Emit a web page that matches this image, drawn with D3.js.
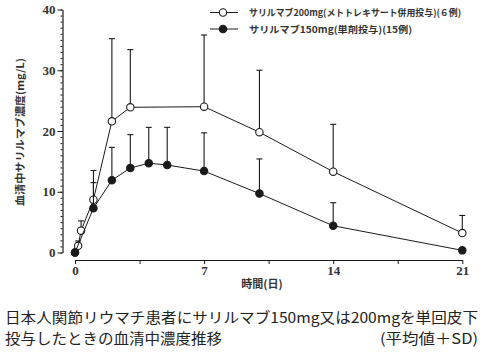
<!DOCTYPE html>
<html>
<head>
<meta charset="utf-8">
<script src="https://cdn.jsdelivr.net/npm/d3@7"></script>
<style>
  body { margin: 0; background: #fff; }
  svg { display: block; }
  .num { font-family: "Liberation Serif", "DejaVu Serif", serif; }
  .jp { font-family: "Noto Sans CJK JP", sans-serif; }
</style>
</head>
<body>
<svg id="chart"></svg>
<script>
// 200mg (with MTX), n=6 : day, mean, mean+SD
const daysA = [0, 0.17, 0.33, 1, 2, 3, 7, 10, 14, 21];
const meanA = [0, 1.1, 3.6, 8.7, 21.6, 23.9, 24.0, 19.8, 13.3, 3.2];
const topA  = [null, 1.9, 5.2, 13.5, 35.2, 33.4, 35.8, 30.0, 21.1, 6.1];

// 150mg (monotherapy), n=15
const daysB = [0, 1, 2, 3, 4, 5, 7, 10, 14, 21];
const meanB = [0, 7.3, 11.9, 13.9, 14.7, 14.4, 13.4, 9.7, 4.4, 0.35];
const topB  = [null, 11.5, 17.3, 19.4, 20.6, 20.6, 19.7, 15.4, 8.2, null];

const yMajor = [0, 10, 20, 30, 40];
const xTicks = [0, 3.5, 7, 10.5, 14, 17.5, 21];
const xLabels = [0, 7, 14, 21];

const legendA = "サリルマブ200mg(メトトレキサート併用投与)(６例)";
const legendB = "サリルマブ150mg(単剤投与)(15例)";
const yTitle = "血清中サリルマブ濃度(mg/L)";
const xTitle = "時間(日)";
const caption1 = "日本人関節リウマチ患者にサリルマブ150mg又は200mgを単回皮下";
const caption2 = "投与したときの血清中濃度推移";
const caption3 = "(平均値＋SD)";

const W = 482, H = 352;
const svg = d3.select("#chart").attr("width", W).attr("height", H);

const x = d3.scaleLinear().domain([0, 21]).range([75, 462.3]);
const y = d3.scaleLinear().domain([0, 40]).range([252.5, 9.5]);

const ink = "#1a1a1a";

// y axis: minor ticks every 1, major every 10
const yMinorG = svg.append("g").attr("transform", "translate(62.5,0)")
  .call(d3.axisLeft(y).tickValues(d3.range(0, 41, 1)).tickSize(2).tickSizeOuter(0).tickFormat(""));
yMinorG.select(".domain").remove();
const yG = svg.append("g").attr("transform", "translate(62.5,0)")
  .call(d3.axisLeft(y).tickValues(yMajor).tickSize(5).tickSizeOuter(0).tickPadding(2));
yG.selectAll("line").attr("stroke", ink);
yMinorG.selectAll("line").attr("stroke", ink);
yG.select(".domain").attr("stroke", ink).attr("stroke-width", 1.2);
yG.selectAll("text").attr("class", "num").attr("font-size", 13).attr("font-weight", "bold").attr("fill", "#333");

// x axis
const xG = svg.append("g").attr("transform", "translate(0,260)")
  .call(d3.axisBottom(x).tickValues(xTicks).tickSize(4).tickSizeOuter(0).tickPadding(2)
    .tickFormat(d => xLabels.includes(d) ? d : ""));
xG.selectAll("line").attr("stroke", ink);
xG.select(".domain").attr("stroke", ink).attr("stroke-width", 1.2);
xG.selectAll("text").attr("class", "num").attr("font-size", 13).attr("font-weight", "bold").attr("fill", "#333");

// axis titles
svg.append("text").attr("class", "jp")
  .attr("transform", "translate(24,132) rotate(-90)")
  .attr("text-anchor", "middle").attr("font-size", 10).attr("font-weight", "bold").attr("fill", "#333")
  .attr("textLength", 148).attr("lengthAdjust", "spacingAndGlyphs")
  .text(yTitle);
svg.append("text").attr("class", "jp")
  .attr("x", 262).attr("y", 288).attr("text-anchor", "middle")
  .attr("font-size", 11).attr("font-weight", "bold").attr("fill", "#333")
  .text(xTitle);

// series
const series = [
  { days: daysA, mean: meanA, top: topA, fill: "#fff" },
  { days: daysB, mean: meanB, top: topB, fill: ink }
];

const line = d3.line().x(d => x(d.t)).y(d => y(d.v));

series.forEach(s => {
  const pts = s.days.map((t, i) => ({ t, v: s.mean[i], top: s.top[i] }));
  const g = svg.append("g");
  // error bars (mean + SD)
  const eb = pts.filter(d => d.top != null);
  g.selectAll(".eb").data(eb).join("line")
    .attr("x1", d => x(d.t)).attr("x2", d => x(d.t))
    .attr("y1", d => y(d.v)).attr("y2", d => y(d.top))
    .attr("stroke", ink).attr("stroke-width", 1.1);
  g.selectAll(".cap").data(eb).join("line")
    .attr("x1", d => x(d.t) - 3).attr("x2", d => x(d.t) + 3)
    .attr("y1", d => y(d.top)).attr("y2", d => y(d.top))
    .attr("stroke", ink).attr("stroke-width", 1.1);
  s.pts = pts;
  s.g = g;
});

series.forEach(s => {
  s.g.append("path").datum(s.pts).attr("d", line)
    .attr("fill", "none").attr("stroke", ink).attr("stroke-width", 1);
});
series.forEach(s => {
  s.g.selectAll("circle").data(s.pts).join("circle")
    .attr("cx", d => x(d.t)).attr("cy", d => y(d.v)).attr("r", 3.7)
    .attr("fill", s.fill).attr("stroke", ink).attr("stroke-width", 1.1);
});

// legend
const legend = [
  { label: legendA, fill: "#fff", y: 12.5, len: 212 },
  { label: legendB, fill: ink, y: 29, len: 163 }
];
const lg = svg.append("g");
legend.forEach(l => {
  lg.append("line").attr("x1", 210).attr("x2", 238).attr("y1", l.y).attr("y2", l.y)
    .attr("stroke", ink).attr("stroke-width", 1);
  lg.append("circle").attr("cx", 223).attr("cy", l.y).attr("r", 3.7)
    .attr("fill", l.fill).attr("stroke", ink).attr("stroke-width", 1.1);
  lg.append("text").attr("class", "jp").attr("x", 249).attr("y", l.y + 3.6)
    .attr("font-size", 9.2).attr("font-weight", "bold").attr("fill", "#333")
    .attr("textLength", l.len).attr("lengthAdjust", "spacingAndGlyphs")
    .text(l.label);
});

// caption
const cap = [
  { text: caption1, x: 5, y: 323, anchor: "start", len: 473 },
  { text: caption2, x: 5, y: 344, anchor: "start", len: 217 },
  { text: caption3, x: 478, y: 344, anchor: "end", len: 98 }
];
cap.forEach(c => {
  svg.append("text").attr("class", "jp").attr("x", c.x).attr("y", c.y)
    .attr("text-anchor", c.anchor).attr("font-size", 14.5).attr("fill", "#222")
    .attr("textLength", c.len).attr("lengthAdjust", "spacingAndGlyphs")
    .text(c.text);
});
</script>
</body>
</html>
